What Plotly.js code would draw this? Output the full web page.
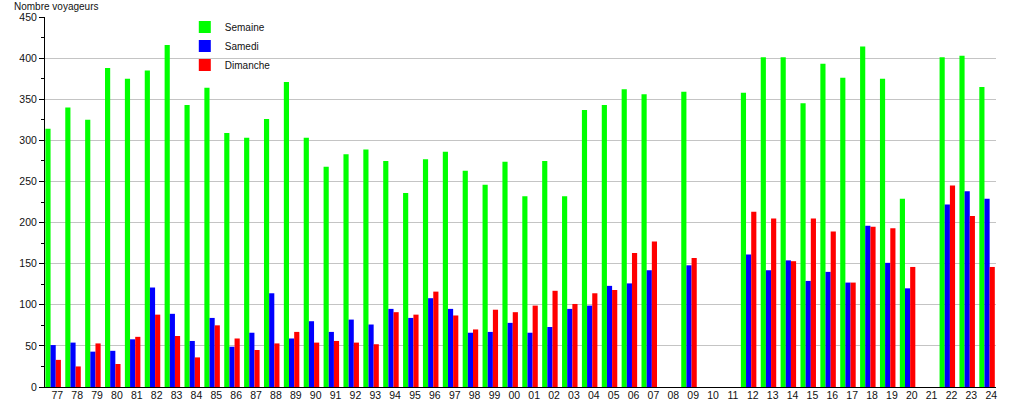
<!DOCTYPE html>
<html>
<head>
<meta charset="utf-8">
<script src="https://cdn.plot.ly/plotly-3.0.1.min.js"></script>
<style>
  html, body { margin: 0; padding: 0; background: #fff; }
  #chart { width: 1015px; height: 400px; }
</style>
</head>
<body>
<div id="chart"></div>
<script>
// Years (two-digit labels)
const years = ["77","78","79","80","81","82","83","84","85","86","87","88","89","90","91","92","93","94","95","96","97","98","99",
               "00","01","02","03","04","05","06","07","08","09","10","11","12","13","14","15","16","17","18","19","20","21","22","23","24"];

// Nombre voyageurs par jour type
const semaine  = [314,340,325,388,375,385,416,343,364,309,303,326,371,303,268,283,289,275,236,277,286,263,246,
                  274,232,275,232,337,343,362,356,null,359,null,null,358,401,401,345,393,376,414,375,229,null,401,403,365];
const samedi   = [51,54,43,44,58,121,89,56,84,49,66,114,59,80,67,82,76,95,84,108,95,66,67,
                  78,66,73,95,99,123,126,142,null,148,null,null,161,142,154,129,140,127,196,151,120,null,222,238,229];
const dimanche = [33,25,53,28,61,88,62,36,75,59,45,53,67,54,56,54,52,91,88,116,87,70,94,
                  91,99,117,101,114,118,163,177,null,157,null,null,213,205,153,205,189,127,195,193,146,null,245,208,146];

const seriesNames = ["Semaine", "Samedi", "Dimanche"];
const FONT = "Liberation Sans, Arial, Helvetica, sans-serif";

const mk = (name, y, color, offset) => ({
  type: "bar",
  name: name,
  x: years,
  y: y,
  marker: { color: color, line: { width: 0 } },
  width: 0.26,
  offset: offset,
  hoverinfo: "x+y+name"
});

const data = [
  mk(seriesNames[0], semaine,  "#00ff00", -0.60),
  mk(seriesNames[1], samedi,   "#0000ff", -0.34),
  mk(seriesNames[2], dimanche, "#ff0000", -0.08)
];

const layout = {
  width: 1015,
  height: 400,
  margin: { l: 45, r: 19, t: 17, b: 13, pad: 0 },
  paper_bgcolor: "#ffffff",
  plot_bgcolor: "#ffffff",
  font: { family: FONT, size: 10, color: "#111" },
  barmode: "overlay",
  showlegend: true,
  legend: {
    x: 0.147, xanchor: "left",
    y: 1.012, yanchor: "top",
    bgcolor: "rgba(0,0,0,0)",
    borderwidth: 0,
    font: { family: FONT, size: 10, color: "#111" },
    traceorder: "normal"
  },
  xaxis: {
    type: "category",
    range: [-0.62, 47.24],
    showgrid: false,
    zeroline: false,
    showline: true,
    linecolor: "#000",
    linewidth: 1,
    ticks: "",
    ticklabelstandoff: -2,
    tickangle: 0,
    tickfont: { family: FONT, size: 10.5, color: "#111" },
    fixedrange: true
  },
  yaxis: {
    range: [0, 450],
    tick0: 0,
    dtick: 50,
    showgrid: true,
    gridcolor: "#c4c4c4",
    gridwidth: 1,
    zeroline: false,
    showline: true,
    linecolor: "#000",
    linewidth: 1,
    ticks: "outside",
    ticklen: 5,
    tickcolor: "#000",
    tickfont: { family: FONT, size: 10.5, color: "#111" },
    minor: { dtick: 25, ticks: "outside", ticklen: 3, tickcolor: "#000", showgrid: false },
    fixedrange: true
  },
  annotations: [{
    text: "Nombre voyageurs",
    xref: "paper", yref: "paper",
    x: -0.035, y: 1.0,
    xanchor: "left", yanchor: "bottom",
    yshift: 3,
    showarrow: false,
    font: { family: FONT, size: 10, color: "#111" }
  }]
};

Plotly.newPlot("chart", data, layout, { displayModeBar: false, staticPlot: true });
</script>
</body>
</html>
